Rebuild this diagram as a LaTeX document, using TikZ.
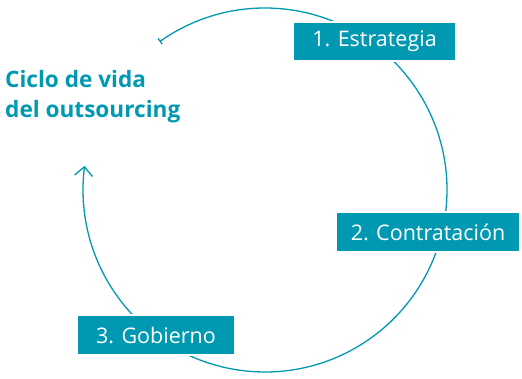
\documentclass[tikz,border=0pt]{standalone}
\usepackage{fontspec}
\setmainfont{Open Sans}
\usetikzlibrary{arrows.meta,bending}
\definecolor{teal1}{HTML}{0099B1}
\begin{document}
\begin{tikzpicture}[x=1pt,y=1pt,
  cycle/.style={draw=teal1,line width=1.3pt},
  stagebox/.style={fill=teal1,draw=white,line width=1.5pt,text=white,inner sep=0pt,
    font=\fontsize{21.5}{26}\selectfont},
  title/.style={text=teal1,font=\bfseries\fontsize{22.6}{30}\selectfont,align=left,inner sep=0pt}]
\useasboundingbox (0,0) rectangle (522,378);
\coordinate (c) at (265,188);
\draw[cycle,{Bar[width=7pt,line width=1.3pt]}-{Straight Barb[length=9pt,width=18pt,line width=1.3pt,bend]}]
  (c) ++(125.4:182) coordinate (start) arc[start angle=125.4,end angle=-187.6,radius=182] coordinate (end);
\node[stagebox,minimum width=163pt,minimum height=39pt] (e1) at (374.5,336.5) {1. Estrategia};
\node[stagebox,minimum width=184pt,minimum height=40pt] (e2) at (428,146) {2. Contratación};
\node[stagebox,minimum width=158pt,minimum height=40pt] (e3) at (156,43) {3. Gobierno};
\node[title,anchor=base west] (t) at (5,260) {Ciclo de vida\\del outsourcing};
\end{tikzpicture}
\end{document}
